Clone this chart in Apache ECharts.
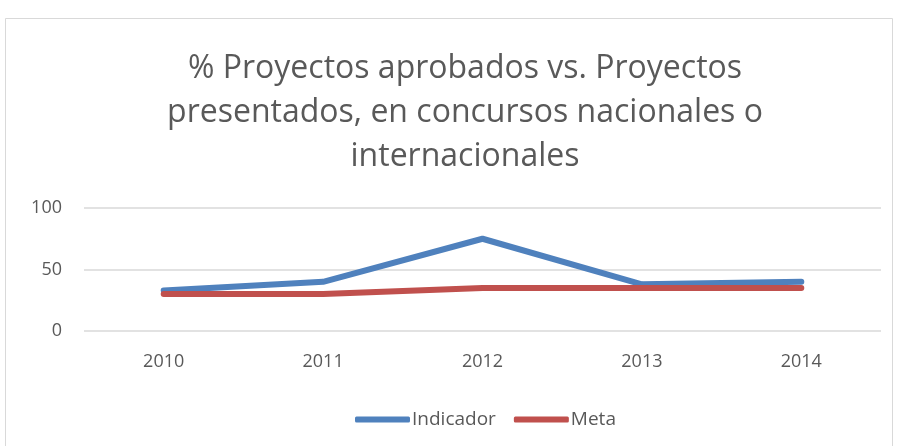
<!DOCTYPE html>
<html>
<head>
<meta charset="utf-8">
<script src="https://cdn.jsdelivr.net/npm/echarts@6/dist/echarts.min.js"></script>
<style>
  html, body { margin: 0; padding: 0; background: #fff; }
  #chart { width: 897px; height: 446px; }
</style>
</head>
<body>
<div id="chart"></div>
<script>
// datos
const years = ['2010', '2011', '2012', '2013', '2014']
const indicador = [33, 40, 75, 38, 40]
const meta = [30, 30, 35, 35, 35]
const yTicks = [0, 50, 100]

const chart = echarts.init(document.getElementById('chart'))

const option = {
  backgroundColor: '#fff',
  textStyle: { fontFamily: 'Open Sans, Liberation Sans, sans-serif' },
  graphic: [{
    type: 'rect',
    shape: { x: 5.5, y: 18.5, width: 887, height: 440 },
    style: { fill: 'none', stroke: '#d9d9d9', lineWidth: 1 },
    silent: true
  }],
  title: {
    text: '% Proyectos aprobados vs. Proyectos\npresentados, en concursos nacionales o\ninternacionales',
    left: 460,
    textAlign: 'center',
    top: 42,
    textStyle: {
      color: '#595959',
      fontSize: 32,
      fontWeight: 'normal',
      lineHeight: 44,
      fontFamily: 'Open Sans, Liberation Sans, sans-serif'
    }
  },
  legend: {
    bottom: 12,
    left: 350,
    itemWidth: 55,
    itemHeight: 6,
    itemGap: 18,
    icon: 'roundRect',
    textStyle: { color: '#595959', fontSize: 19, padding: [0, 0, 0, -3] },
    data: ['Indicador', 'Meta']
  },
  grid: { left: 84, right: 16, top: 208, bottom: 115, containLabel: false },
  xAxis: {
    type: 'category',
    data: years,
    boundaryGap: true,
    axisLine: { show: false },
    axisTick: { show: false },
    axisLabel: { color: '#595959', fontSize: 18, margin: 22 }
  },
  yAxis: {
    type: 'value',
    min: yTicks[0],
    max: yTicks[yTicks.length - 1],
    interval: 50,
    axisLine: { show: false },
    axisTick: { show: false },
    axisLabel: { color: '#595959', fontSize: 18, margin: 22 },
    splitLine: { lineStyle: { color: '#d9d9d9', width: 1.5 } }
  },
  series: [
    {
      name: 'Indicador',
      type: 'line',
      data: indicador,
      symbol: 'none',
      color: '#4f81bd',
      lineStyle: { width: 6, cap: 'round', join: 'round' }
    },
    {
      name: 'Meta',
      type: 'line',
      data: meta,
      symbol: 'none',
      color: '#c0504d',
      lineStyle: { width: 6, cap: 'round', join: 'round' }
    }
  ]
}

chart.setOption(option)
</script>
</body>
</html>
